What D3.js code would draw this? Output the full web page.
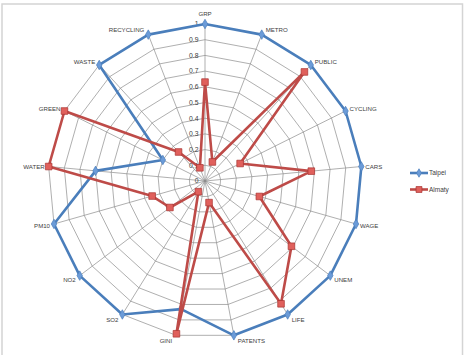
<!DOCTYPE html>
<html>
<head>
<meta charset="utf-8">
<script src="https://cdn.jsdelivr.net/npm/d3@7"></script>
<style>
  body { margin: 0; background: #fff; }
  svg text { font-family: "Liberation Sans", Arial, sans-serif; fill: #404040; }
</style>
</head>
<body>
<script>
// data
const categories = ["GRP", "METRO", "PUBLIC", "CYCLING", "CARS", "WAGE", "UNEM", "LIFE", "PATENTS",
  "GINI", "SO2", "NO2", "PM10", "WATER", "GREEN", "WASTE", "RECYCLING"];
const taipei = [1, 1, 1, 1, 1, 1, 1, 1, 1, 0.83, 1, 1, 1, 0.7, 0.3, 1, 1];
const almaty = [0.63, 0.13, 0.94, 0.25, 0.68, 0.36, 0.69, 0.92, 0.14, 0.99, 0.08, 0.28, 0.35, 1, 1, 0.25, 0.09];
const tickValues = [0, 0.1, 0.2, 0.3, 0.4, 0.5, 0.6, 0.7, 0.8, 0.9, 1];
const seriesNames = ["Taipei", "Almaty"];

const width = 465, height = 355;
const cx = 205, cy = 181;

const svg = d3.select("body").append("svg")
  .attr("width", width)
  .attr("height", height);

// chart border
svg.append("rect")
  .attr("x", 2).attr("y", 4)
  .attr("width", 460.5).attr("height", 360)
  .attr("fill", "none")
  .attr("stroke", "#d4d4d4")
  .attr("stroke-width", 1.5);

const r = d3.scaleLinear().domain([0, 1]).range([0, 157]);
const angle = d3.scaleLinear().domain([0, categories.length]).range([0, 2 * Math.PI]);

const g = svg.append("g").attr("transform", `translate(${cx},${cy})`);

const pt = (i, v) => [Math.sin(angle(i)) * r(v), -Math.cos(angle(i)) * r(v)];

// grid rings
const ring = d3.lineRadial()
  .angle((d, i) => angle(i))
  .radius(d => r(d))
  .curve(d3.curveLinearClosed);

g.selectAll(".ring")
  .data(tickValues.filter(t => t > 0))
  .join("path")
  .attr("class", "ring")
  .attr("d", t => ring(categories.map(() => t)))
  .attr("fill", "none")
  .attr("stroke", "#8c8c8c")
  .attr("stroke-width", 0.7);

// spokes
g.selectAll(".spoke")
  .data(categories)
  .join("line")
  .attr("class", "spoke")
  .attr("x1", 0).attr("y1", 0)
  .attr("x2", (d, i) => pt(i, 1)[0])
  .attr("y2", (d, i) => pt(i, 1)[1])
  .attr("stroke", "#8c8c8c")
  .attr("stroke-width", 0.7);

// value labels
g.selectAll(".tick")
  .data(tickValues)
  .join("text")
  .attr("class", "tick")
  .attr("x", -6.5)
  .attr("y", t => -r(t))
  .attr("dy", "0.35em")
  .attr("text-anchor", "end")
  .style("font-size", "6.8px")
  .text(t => d3.format("~g")(t));

// category labels
g.selectAll(".cat")
  .data(categories)
  .join("text")
  .attr("class", "cat")
  .each(function (d, i) {
    const [x, y] = pt(i, 1);
    const s = Math.sin(angle(i)), c = Math.cos(angle(i));
    const el = d3.select(this);
    if (Math.abs(s) < 0.05) {
      el.attr("x", x).attr("y", y - 10).attr("text-anchor", "middle");
    } else {
      el.attr("x", x + (s > 0 ? 4 : -4))
        .attr("y", y - 5.5 * c + 0.5)
        .attr("text-anchor", s > 0 ? "start" : "end");
    }
  })
  .attr("dy", "0.35em")
  .style("font-size", "6.1px")
  .text(d => d);

// series
const series = [
  { name: seriesNames[0], values: taipei, color: "#4a7ebb", marker: d3.symbolDiamond, fill: "#6b9bd8", stroke: "#4a7ebb", size: 26 },
  { name: seriesNames[1], values: almaty, color: "#be4b48", marker: d3.symbolSquare, fill: "#e0605c", stroke: "#a83330", size: 44 }
];

const line = d3.lineRadial()
  .angle((d, i) => angle(i))
  .radius(d => r(d))
  .curve(d3.curveLinearClosed);

series.forEach(s => {
  g.append("path")
    .attr("d", line(s.values))
    .attr("fill", "none")
    .attr("stroke", s.color)
    .attr("stroke-width", 2.6)
    .attr("stroke-linejoin", "round");

  g.selectAll(null)
    .data(s.values)
    .join("path")
    .attr("transform", (v, i) => `translate(${pt(i, v)})`)
    .attr("d", d3.symbol().type(s.marker).size(s.size))
    .attr("fill", s.fill)
    .attr("stroke", s.stroke)
    .attr("stroke-width", 0.7);
});

// legend
const legend = svg.append("g").attr("transform", "translate(410,173)");
series.forEach((s, i) => {
  const row = legend.append("g").attr("transform", `translate(0,${i * 16.5})`);
  row.append("line")
    .attr("x1", 0).attr("x2", 18)
    .attr("stroke", s.color)
    .attr("stroke-width", 2.6);
  row.append("path")
    .attr("transform", "translate(9,0)")
    .attr("d", d3.symbol().type(s.marker).size(s.size * 0.8))
    .attr("fill", s.fill)
    .attr("stroke", s.stroke)
    .attr("stroke-width", 0.7);
  row.append("text")
    .attr("x", 19)
    .attr("dy", "0.35em")
    .style("font-size", "6.5px")
    .text(s.name);
});
</script>
</body>
</html>
